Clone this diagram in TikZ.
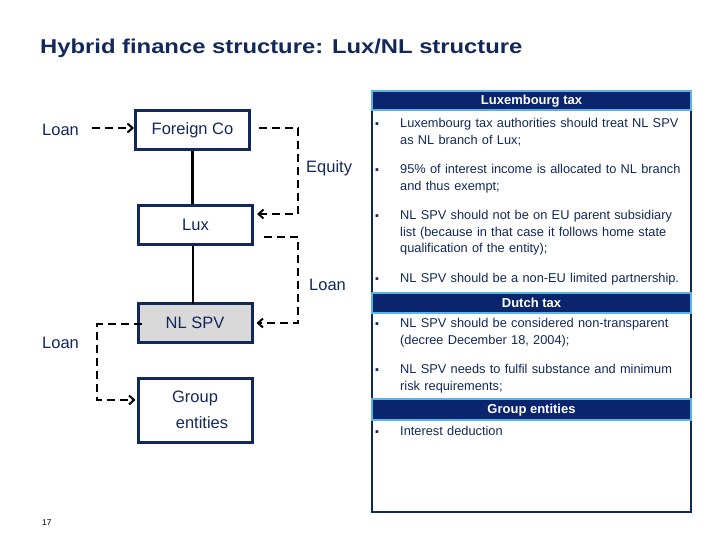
\documentclass[tikz,border=0pt]{standalone}
\usepackage{fontspec}
\setmainfont{Liberation Sans}
\usetikzlibrary{arrows.meta}
\definecolor{navy}{RGB}{18,40,90}
\definecolor{hdrfill}{RGB}{10,36,110}
\definecolor{hdrline}{RGB}{90,180,230}
\definecolor{spvgray}{RGB}{217,217,217}
\tikzset{
  entity/.style={draw=navy, line width=3pt, minimum width=114pt, text=navy, font=\fontsize{16.5}{18}\selectfont, inner sep=0pt},
  lbl/.style={text=navy, font=\fontsize{16.5}{18}\selectfont, inner sep=0pt},
  flow/.style={line width=2.8pt, dash pattern=on 8pt off 5pt, -{Straight Barb[length=5pt,width=9pt,line width=2pt]}},
  own/.style={line width=2.5pt},
  hdr/.style={draw=hdrline, fill=hdrfill, line width=1.8pt},
  hdrtxt/.style={text=white, font=\fontsize{13}{14}\bfseries\selectfont, inner sep=0pt},
  bul/.style={text=navy, font=\fontsize{12.8}{16.2}\selectfont, anchor=north west, align=left, inner sep=0pt, text width=300pt},
  dot/.style={text=navy, font=\fontsize{11}{12}\selectfont, inner sep=0pt}
}
\begin{document}
\begin{tikzpicture}[x=1pt,y=-1pt]
\useasboundingbox (0,0) rectangle (720,540);
% title
\node[anchor=west, text=navy, font=\fontsize{20}{24}\bfseries\selectfont, inner sep=0pt] (title) at (40,48) {\scalebox{1.19}[1]{Hybrid finance structure: Lux/NL structure}};
\node[anchor=west, font=\fontsize{8.5}{10}\selectfont, inner sep=0pt] (page) at (42,523) {17};

% entities
\node[entity, minimum height=39pt] (fc) at (192.5,130.5) {Foreign Co};
\node[entity, minimum height=38pt] (lux) at (195.5,225) {Lux};
\node[entity, fill=spvgray, minimum height=39pt] (spv) at (195,322.5) {NL SPV};
\node[entity, minimum height=64pt, align=center] (grp) at (195,410) {\raisebox{-2pt}{Group}\\[10pt]\hspace{14pt}entities};

% ownership lines
\draw[own] (fc.south) -- (fc.south |- lux.north);
\draw[own] (lux.south -| 193,0) -- (193,303.5);

% labels
\node[lbl, anchor=west] (l1) at (42,130) {Loan};
\node[lbl, anchor=west] (eq) at (306,168) {Equity};
\node[lbl, anchor=west] (l2) at (309,285) {Loan};
\node[lbl, anchor=west] (l3) at (42,343) {Loan};

% corner coordinates
\coordinate (c1) at (298,128);
\coordinate (c2) at (298,214);
\coordinate (c3) at (298,237);
\coordinate (c4) at (298,323);
\coordinate (c5) at (97,324);
\coordinate (c6) at (97,400);
\coordinate (s1) at (92,128);

% flows
\draw[flow] (s1) -- (fc.west |- s1);
\draw[flow] (fc.east |- c1) ++(8,0) -- (c1) -- (c2) -- ([xshift=3pt]lux.east |- c2);
\draw[flow] (lux.east |- c3) ++(10,0) -- (c3) -- (c4) -- ([xshift=3pt]spv.east |- c4);
\draw[flow] ([xshift=5pt]spv.west |- c5) -- (c5) -- (c6) -- ([xshift=-1pt]grp.west |- c6);

% right panel
\draw[draw=navy, line width=2pt] (372,91) rectangle (691,512);
\draw[hdr] (372,91) rectangle (691,110);
\node[hdrtxt] (h1) at (531.5,101) {Luxembourg tax};
\draw[hdr] (372,293) rectangle (691,313);
\node[hdrtxt] (h2) at (531.5,303) {Dutch tax};
\draw[hdr] (372,399) rectangle (691,420);
\node[hdrtxt] (h3) at (531.5,410) {Group entities};

% bullets
\node[dot] (d1) at (377,125) {▪};
\node[bul] (b1) at (400,118.5) {Luxembourg tax authorities should treat NL SPV\\as NL branch of Lux;};
\node[dot] (d2) at (377,171) {▪};
\node[bul] (b2) at (400,164.5) {95\% of interest income is allocated to NL branch\\and thus exempt;};
\node[dot] (d3) at (377,217) {▪};
\node[bul] (b3) at (400,210.5) {NL SPV should not be on EU parent subsidiary\\list (because in that case it follows home state\\qualification of the entity);};
\node[dot] (d4) at (377,280) {▪};
\node[bul] (b4) at (400,273.5) {NL SPV should be a non-EU limited partnership.};
\node[dot] (d5) at (377,325) {▪};
\node[bul] (b5) at (400,318.5) {NL SPV should be considered non-transparent\\(decree December 18, 2004);};
\node[dot] (d6) at (377,371) {▪};
\node[bul] (b6) at (400,364.5) {NL SPV needs to fulfil substance and minimum\\risk requirements;};
\node[dot] (d7) at (377,433) {▪};
\node[bul] (b7) at (400,426.5) {Interest deduction};
\end{tikzpicture}
\end{document}
